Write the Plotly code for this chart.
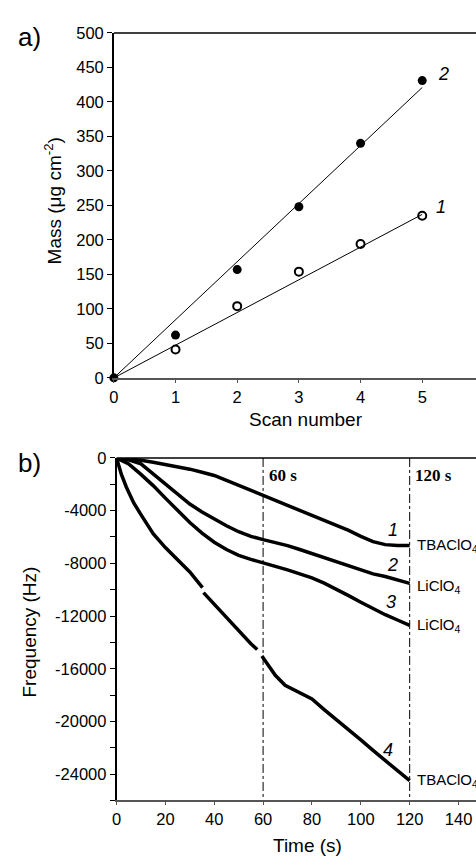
import plotly.graph_objects as go

# ---------------- Panel a) data ----------------
scan = [0, 1, 2, 3, 4, 5]
mass_1 = [0, 41, 104, 154, 194, 235]      # open circles (1)
mass_2 = [0, 62, 157, 248, 340, 431]      # filled circles (2)
fit_x = [0, 5]
fit_1 = [0, 237]
fit_2 = [0, 421]

# ---------------- Panel b) data ----------------
t_std = [0, 5, 10, 15, 20, 25, 30, 35, 40, 45, 50, 55, 60, 65, 70, 75, 80, 85, 90, 95, 100, 105, 110, 115, 120]
freq_1 = [0, -60, -170, -320, -480, -650, -850, -1080, -1330, -1700, -2080, -2450, -2800, -3200, -3600, -3950,
          -4300, -4680, -5080, -5500, -5950, -6350, -6580, -6650, -6650]
freq_2 = [0, -150, -450, -1200, -2000, -2700, -3500, -4100, -4650, -5150, -5600, -5950, -6200, -6420, -6650, -6950,
          -7250, -7600, -7900, -8200, -8500, -8800, -9000, -9250, -9520]
freq_3 = [0, -450, -1250, -2100, -3050, -3950, -4900, -5700, -6400, -6950, -7400, -7700, -7950, -8200, -8500, -8800,
          -9100, -9500, -9950, -10450, -10950, -11450, -11900, -12300, -12700]
t_4 = [0, 1, 2, 4, 7, 10, 15, 20, 25, 30, 35.2, None, 35.6, 40, 45, 50, 55, 57.6, None, 59.5, 62, 65, 69, 75, 80,
       85, 90, 95, 100, 105, 110, 115, 120]
freq_4 = [0, -600, -1250, -2200, -3400, -4300, -5750, -6800, -7700, -8650, -9850, None, -10220, -11100, -12150,
          -13150, -14100, -14540, None, -15040, -15700, -16500, -17250, -17800, -18300, -19100, -19850, -20650,
          -21400, -22200, -22950, -23750, -24500]
curve_ids = ["1", "2", "3", "4"]
curve_label_t = [113, 113, 112.5, 111]
curve_label_f = [-5500, -8100, -10950, -22200]
salt_labels = ["TBAClO<sub>4</sub>", "LiClO<sub>4</sub>", "LiClO<sub>4</sub>", "TBAClO<sub>4</sub>"]
salt_label_f = [-6630, -9750, -12700, -24500]
mark_times = [60, 120]
mark_labels = ["60 s", "120 s"]

W, H = 476, 865
FONT = "Liberation Sans, Arial, sans-serif"

# pixel geometry
a_left, a_zero_x, a_px_unit = 110, 110, 62.33
a_top, a_bot = 24.5, 376.7
b_left, b_px_unit = 112.7, 2.469
b_top, b_bot = 458.5, 808.3

fig = go.Figure()

# panel a
fig.add_trace(go.Scatter(x=fit_x, y=fit_2, mode="lines", line=dict(color="black", width=1),
                         xaxis="x", yaxis="y", showlegend=False))
fig.add_trace(go.Scatter(x=fit_x, y=fit_1, mode="lines", line=dict(color="black", width=1),
                         xaxis="x", yaxis="y", showlegend=False))
fig.add_trace(go.Scatter(x=scan, y=mass_2, mode="markers",
                         marker=dict(symbol="circle", size=9, color="black"),
                         xaxis="x", yaxis="y", showlegend=False, cliponaxis=False))
fig.add_trace(go.Scatter(x=scan[1:], y=mass_1[1:], mode="markers",
                         marker=dict(symbol="circle-open", size=8, color="black", line=dict(width=2)),
                         xaxis="x", yaxis="y", showlegend=False, cliponaxis=False))

# panel b
for tt, ff in [(t_std, freq_1), (t_std, freq_2), (t_std, freq_3), (t_4, freq_4)]:
    fig.add_trace(go.Scatter(x=tt, y=ff, mode="lines", line=dict(color="black", width=3.5),
                             xaxis="x2", yaxis="y2", showlegend=False, connectgaps=False))

for mt in mark_times:
    fig.add_trace(go.Scatter(x=[mt, mt], y=[0, -26000], mode="lines",
                             line=dict(color="black", width=1, dash="dashdot"),
                             xaxis="x2", yaxis="y2", showlegend=False))

a_xmax = (W - a_zero_x) / a_px_unit
b_xmax = (W - b_left) / b_px_unit

tickfont = dict(family=FONT, size=16.5, color="black")

fig.update_layout(
    width=W, height=H,
    margin=dict(l=0, r=0, t=0, b=0),
    paper_bgcolor="white", plot_bgcolor="white",
    xaxis=dict(domain=[a_left / W, 1], range=[0, a_xmax], anchor="y",
               showgrid=False, zeroline=False, showline=True, linecolor="#555555", linewidth=2,
               ticks="outside", ticklen=3, tickcolor="#555555", tickvals=[0, 1, 2, 3, 4, 5],
               tickfont=tickfont),
    yaxis=dict(domain=[1 - a_bot / H, 1 - a_top / H], range=[0, 500], anchor="x",
               showgrid=False, zeroline=False, showline=True, linecolor="black", linewidth=1.5,
               ticks="outside", ticklen=5, tickcolor="black", dtick=50, tickfont=tickfont),
    xaxis2=dict(domain=[b_left / W, 1], range=[0, b_xmax], anchor="y2",
                showgrid=False, zeroline=False, showline=True, linecolor="#555555", linewidth=2,
                ticks="outside", ticklen=3, tickcolor="#555555",
                tickvals=[0, 20, 40, 60, 80, 100, 120, 140], tickfont=tickfont),
    yaxis2=dict(domain=[1 - b_bot / H, 1 - b_top / H], range=[-26000, 0], anchor="x2",
                showgrid=False, zeroline=False, showline=True, linecolor="black", linewidth=1.5,
                ticks="outside", ticklen=5, tickcolor="black",
                tickvals=[0, -4000, -8000, -12000, -16000, -20000, -24000],
                ticktext=["0", "-4000", "-8000", "-12000", "-16000", "-20000", "-24000"],
                minor=dict(tickvals=[-2000, -6000, -10000, -14000, -18000, -22000, -26000],
                           ticks="outside", ticklen=5, tickcolor="black"),
                tickfont=tickfont),
)

# top frame lines
fig.add_shape(type="line", xref="x domain", yref="y domain", x0=0, x1=1, y0=1, y1=1,
              line=dict(color="black", width=1.5))
fig.add_shape(type="line", xref="x2 domain", yref="y2 domain", x0=0, x1=1, y0=1, y1=1,
              line=dict(color="black", width=1.5))

ann = []
# panel letters
ann.append(dict(text="a)", x=11 / W, y=1 - 29 / H, xref="paper", yref="paper",
                xanchor="left", yanchor="middle", showarrow=False,
                font=dict(family=FONT, size=26, color="black")))
ann.append(dict(text="b)", x=11 / W, y=1 - 464 / H, xref="paper", yref="paper",
                xanchor="left", yanchor="middle", showarrow=False,
                font=dict(family=FONT, size=26, color="black")))
# axis titles
ann.append(dict(text="Mass (μg cm<sup>-2</sup>)", x=48 / W, y=1 - 196 / H, xref="paper", yref="paper",
                textangle=-90, showarrow=False, xanchor="center", yanchor="middle",
                font=dict(family=FONT, size=19, color="black")))
ann.append(dict(text="Scan number", x=304 / W, y=1 - 419 / H, xref="paper", yref="paper",
                showarrow=False, xanchor="center", yanchor="middle",
                font=dict(family=FONT, size=19, color="black")))
ann.append(dict(text="Frequency (Hz)", x=25 / W, y=1 - 636 / H, xref="paper", yref="paper",
                textangle=-90, showarrow=False, xanchor="center", yanchor="middle",
                font=dict(family=FONT, size=19, color="black")))
ann.append(dict(text="Time (s)", x=306 / W, y=1 - 854 / H, xref="paper", yref="paper",
                showarrow=False, xanchor="center", yanchor="middle",
                font=dict(family=FONT, size=19, color="black")))
# panel a curve labels
ann.append(dict(text="<i>2</i>", x=5.34, y=440, xref="x", yref="y", showarrow=False,
                xanchor="center", yanchor="middle", font=dict(family=FONT, size=18, color="black")))
ann.append(dict(text="<i>1</i>", x=5.31, y=247, xref="x", yref="y", showarrow=False,
                xanchor="center", yanchor="middle", font=dict(family=FONT, size=18, color="black")))
# panel b labels
for cid, lt, lf in zip(curve_ids, curve_label_t, curve_label_f):
    ann.append(dict(text="<i>" + cid + "</i>", x=lt, y=lf, xref="x2", yref="y2", showarrow=False,
                    xanchor="center", yanchor="middle", font=dict(family=FONT, size=18, color="black")))
for sl, sf in zip(salt_labels, salt_label_f):
    ann.append(dict(text=sl, x=122, y=sf, xref="x2", yref="y2", showarrow=False,
                    xanchor="left", yanchor="middle", font=dict(family=FONT, size=15, color="black")))
for mt, ml in zip(mark_times, mark_labels):
    ann.append(dict(text="<b>" + ml + "</b>", x=mt + 1.5, y=-1300, xref="x2", yref="y2", showarrow=False,
                    xanchor="left", yanchor="middle",
                    font=dict(family="Liberation Serif, Times New Roman, serif", size=17, color="black")))
fig.update_layout(annotations=ann)

fig.write_html("out.html")
